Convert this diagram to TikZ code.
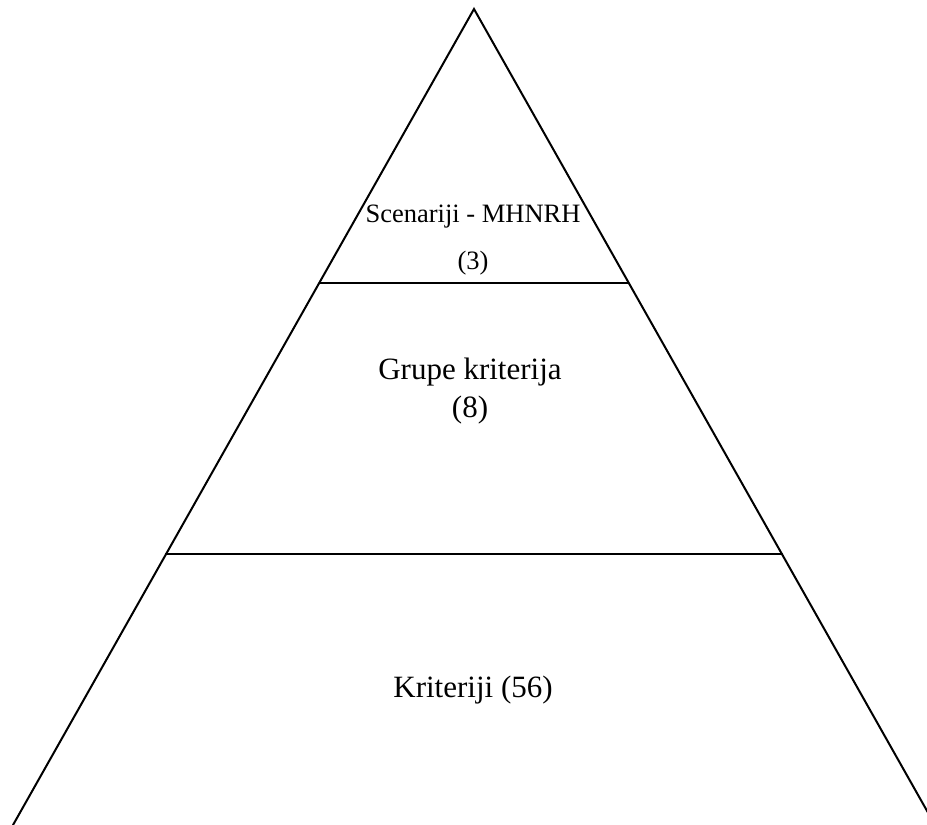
\documentclass[tikz,border=0pt]{standalone}
\usepackage{fontspec}
\setmainfont{Liberation Serif}
\begin{document}
\begin{tikzpicture}[x=1pt,y=-1pt,
  edge/.style={line width=2pt, line cap=round, line join=miter},
  big/.style={font=\fontsize{31}{37}\selectfont, inner sep=0pt},
  small/.style={font=\fontsize{26.5}{31}\selectfont, inner sep=0pt}]
\useasboundingbox (0,0) rectangle (927,825);
\coordinate (apex) at (474,9);
\coordinate (bl) at (13,825);
\coordinate (br) at (935,825);
\coordinate (l1) at (320,283);
\coordinate (r1) at (628,283);
\coordinate (l2) at (166,554);
\coordinate (r2) at (782,554);
\begin{scope}
\clip (0,0) rectangle (927,825);
\draw[edge] (bl) -- (apex) -- (br);
\draw[edge] (l1) -- (r1);
\draw[edge] (l2) -- (r2);
\end{scope}
\node[small] (s1) at (473,217) {Scenariji - MHNRH};
\node[small] (s2) at (473,263) {(3)};
\node[big] (g1) at (470,372) {Grupe kriterija};
\node[big] (g2) at (470,410) {(8)};
\node[big] (k) at (473,690) {Kriteriji (56)};
\end{tikzpicture}
\end{document}
